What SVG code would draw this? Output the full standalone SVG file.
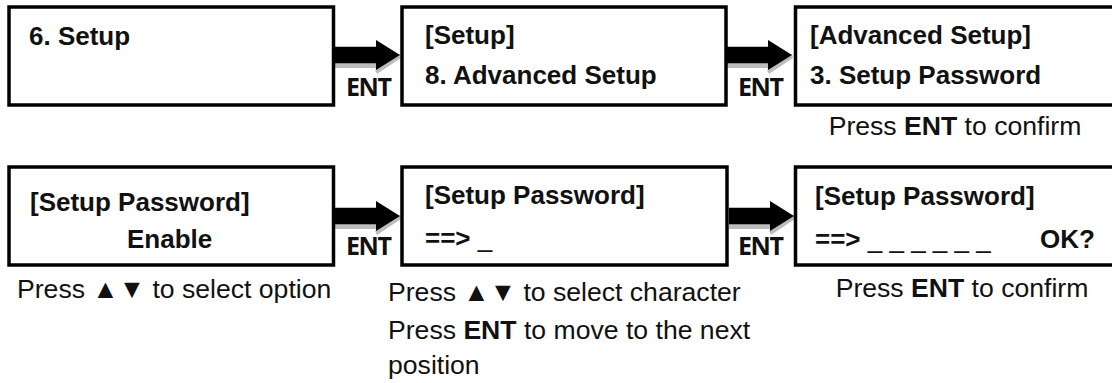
<svg xmlns="http://www.w3.org/2000/svg" width="1112" height="383" viewBox="0 0 1112 383">
<style>
.box{fill:#fff;stroke:#000;stroke-width:3.5}
.t{font-family:"Liberation Sans",Arial,sans-serif;font-weight:bold;font-size:26px;fill:#111}
.t tspan.n{font-weight:normal}
.c{font-family:"Liberation Sans",Arial,sans-serif;font-size:26.6px;fill:#111}
.c tspan.b{font-weight:bold}
.ent{font-family:"Open Sans","DejaVu Sans",sans-serif;font-weight:bold;font-size:25px;fill:#111}
.sh{fill:#bdbdbd}
.ar{fill:#000}
</style>
<defs>
<g id="arrow">
<polygon class="sh" points="0,22 41,22 41,28 0,28"/>
<polygon class="sh" points="40,30 65,14 66,18 42,34"/>
<polygon class="ar" points="0,6.7 41,6.7 41,0 65,15 41,30 41,23.3 0,23.3"/>
</g>
</defs>
<g id="connectors">
<use href="#arrow" x="335" y="40"/>
<use href="#arrow" x="727" y="40"/>
<use href="#arrow" x="335" y="201"/>
<use href="#arrow" x="729" y="201"/>
<text class="ent" x="346" y="96" textLength="46">ENT</text>
<text class="ent" x="738" y="96" textLength="46">ENT</text>
<text class="ent" x="346" y="255" textLength="46">ENT</text>
<text class="ent" x="738" y="255" textLength="46">ENT</text>
</g>
<g id="node1">
<rect class="box" x="9" y="7" width="324.5" height="98"/>
<text class="t" x="29" y="45">6. Setup</text>
</g>
<g id="node2">
<rect class="box" x="402" y="7" width="324" height="98"/>
<text class="t" x="425" y="44">[Setup]</text>
<text class="t" x="425" y="84">8. Advanced Setup</text>
</g>
<g id="node3">
<rect class="box" x="795.5" y="7" width="330" height="98"/>
<text class="t" x="810" y="44">[Advanced Setup]</text>
<text class="t" x="810" y="84">3. Setup Password</text>
<text class="c" x="955" y="135" text-anchor="middle">Press <tspan class="b">ENT</tspan> to confirm</text>
</g>
<g id="node4">
<rect class="box" x="9" y="167" width="324.5" height="98"/>
<text class="t" x="30" y="211">[Setup Password]</text>
<text class="t" x="127" y="248">Enable</text>
<text class="c" x="17" y="298">Press ▲▼ to select option</text>
</g>
<g id="node5">
<rect class="box" x="402" y="167" width="325" height="98"/>
<text class="t" x="425" y="204">[Setup Password]</text>
<text class="t" x="425" y="247">==&gt; <tspan class="n">_</tspan></text>
<text class="c" x="388" y="301">Press ▲▼ to select character</text>
<text class="c" x="388" y="339">Press <tspan class="b">ENT</tspan> to move to the next</text>
<text class="c" x="388" y="374">position</text>
</g>
<g id="node6">
<rect class="box" x="795.5" y="167" width="330" height="98"/>
<text class="t" x="815" y="205">[Setup Password]</text>
<text class="t" x="815" y="248">==&gt; <tspan class="n">_ _ _ _ _ _</tspan></text>
<text class="t" x="1040" y="248">OK?</text>
<text class="c" x="962" y="297" text-anchor="middle">Press <tspan class="b">ENT</tspan> to confirm</text>
</g>
</svg>
